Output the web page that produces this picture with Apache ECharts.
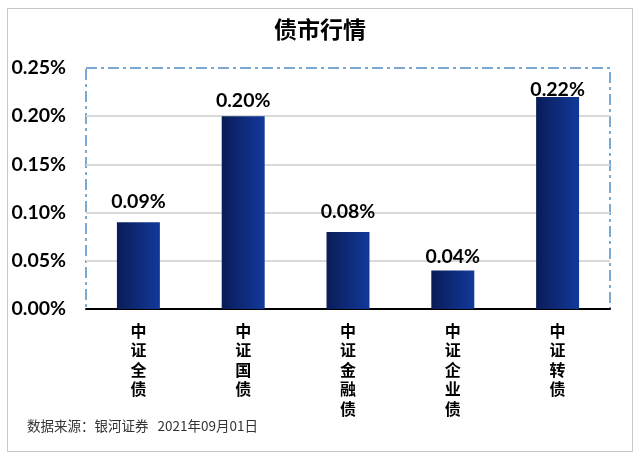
<!DOCTYPE html>
<html><head><meta charset="utf-8">
<script src="https://cdn.jsdelivr.net/npm/echarts@6/dist/echarts.min.js"></script>
<style>html,body{margin:0;padding:0;background:#fff}#c{width:640px;height:461px}</style>
</head><body><div id="c"></div>
<script>
const title = '债市行情';
const categories = ['中证全债', '中证国债', '中证金融债', '中证企业债', '中证转债'];
const values = [0.09, 0.20, 0.08, 0.04, 0.22];
const yTicks = [0, 0.05, 0.10, 0.15, 0.20, 0.25];
const source = '数据来源：银河证券   2021年09月01日';
const labelGap = [11, 5, 10, 4, -3];

const chart = echarts.init(document.getElementById('c'), null, {renderer: 'canvas'});
const numFont = 'Lato, "Noto Sans", sans-serif';
chart.setOption({
  backgroundColor: '#fff',
  animation: false,
  title: {
    text: title, left: 'center', top: 13,
    textStyle: {fontFamily: '"Noto Sans CJK SC"', fontWeight: 'bold', fontSize: 23, color: '#000'}
  },
  graphic: [
    {type: 'rect', shape: {x: 7.5, y: 8.5, width: 625, height: 443}, style: {fill: 'none', stroke: '#c8c8c8', lineWidth: 1}, z: -1},
    {type: 'text', left: 27, top: 419, style: {text: source, fill: '#333', font: '13.5px "Noto Sans CJK SC"'}}
  ],
  grid: {
    left: 86, right: 30, top: 68, bottom: 152, show: true,
    borderColor: '#4f8fc6', borderWidth: 1.5, borderType: [11, 4, 3, 4]
  },
  xAxis: {
    type: 'category', data: categories,
    axisLine: {lineStyle: {color: '#000', width: 2}},
    axisTick: {inside: true, length: 6, lineStyle: {color: '#000', width: 2}},
    axisLabel: {
      margin: 12, interval: 0,
      formatter: v => v.split('').join('\n'),
      fontFamily: '"Noto Sans CJK SC"', fontWeight: 'bold', fontSize: 16, lineHeight: 19.5, color: '#000'
    }
  },
  yAxis: {
    type: 'value', min: 0, max: 0.25, interval: 0.05,
    axisLine: {show: false}, axisTick: {show: false},
    splitLine: {showMaxLine: false, lineStyle: {color: '#d9d9d9', width: 2}},
    axisLabel: {
      margin: 20, formatter: v => v.toFixed(2) + '%',
      fontFamily: numFont, fontWeight: 'bold', fontSize: 19.5, color: '#000'
    }
  },
  series: [{
    type: 'bar',
    data: values.map((v, i) => ({value: v, label: {distance: labelGap[i]}})),
    barWidth: '41%',
    itemStyle: {
      color: new echarts.graphic.LinearGradient(0, 0, 1, 0, [
        {offset: 0, color: '#0a1c58'}, {offset: 1, color: '#12399a'}
      ])
    },
    label: {
      show: true, position: 'top', distance: 5,
      formatter: p => p.value.toFixed(2) + '%',
      fontFamily: numFont, fontWeight: 'bold', fontSize: 19.5, color: '#000'
    }
  }]
});
</script></body></html>
